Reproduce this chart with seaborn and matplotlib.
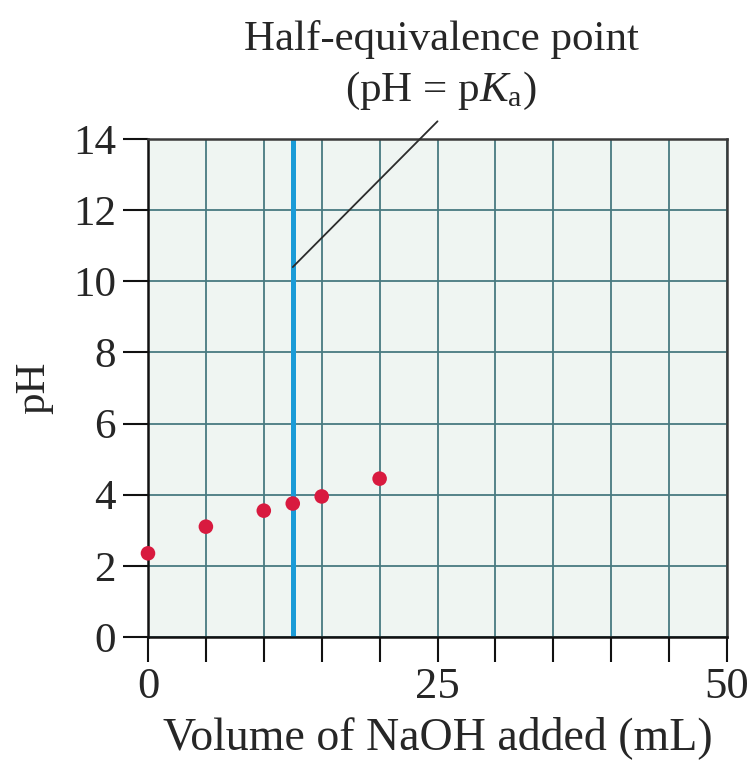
import matplotlib
matplotlib.use("Agg")
import matplotlib.pyplot as plt
import seaborn as sns
import pandas as pd

# Titration data: volume of NaOH added (mL) and measured pH
volume_ml = [0, 5, 10, 12.5, 15, 20]
ph_values = [2.35, 3.1, 3.55, 3.75, 3.95, 4.45]

half_equiv_volume = 12.5
x_ticks = [0, 5, 10, 15, 20, 25, 30, 35, 40, 45, 50]
x_tick_labels = ["0", "", "", "", "", "25", "", "", "", "", "50"]
y_ticks = [0, 2, 4, 6, 8, 10, 12, 14]
y_tick_labels = ["0", "2", "4", "6", "8", "10", "12", "14"]

label_lines = ["Half-equivalence point", r"(pH = p$\mathit{K}_{\mathrm{a}}$)"]
leader_start = (12.5, 10.4)
leader_end = (25.0, 14.5)

sns.set_theme(style="ticks")
plt.rcParams["font.family"] = ["Liberation Serif", "DejaVu Serif"]
plt.rcParams["mathtext.fontset"] = "custom"
plt.rcParams["mathtext.rm"] = "Liberation Serif"
plt.rcParams["mathtext.it"] = "Liberation Serif:italic"

df = pd.DataFrame({"volume": volume_ml, "pH": ph_values})

fig = plt.figure(figsize=(7.55, 7.6), dpi=100)
ax = fig.add_axes([0.196, 0.162, 0.767, 0.655])
ax.set_facecolor("#eff5f2")

ax.set_xlim(0, 50)
ax.set_ylim(0, 14)
ax.set_xticks(x_ticks)
ax.set_xticklabels(x_tick_labels)
ax.set_yticks(y_ticks)
ax.set_yticklabels(y_tick_labels)

ax.grid(True, color="#487a80", linewidth=1.3, zorder=1)
ax.set_axisbelow(True)

# half-equivalence marker
ax.axvline(half_equiv_volume, color="#1a9bd7", linewidth=3.6, zorder=2)

sns.scatterplot(data=df, x="volume", y="pH", ax=ax, color="#d81a3f",
                s=110, edgecolor="none", zorder=4, clip_on=False)

# leader line from the marker up to the label
ax.plot([leader_start[0], leader_end[0]], [leader_start[1], leader_end[1]],
        color="#2b2b2b", linewidth=1.3, clip_on=False, zorder=5)

ax.text(25.3, 16.8, label_lines[0], ha="center", va="center",
        fontsize=31, color="#262626")
ax.text(25.3, 15.35, label_lines[1], ha="center", va="center",
        fontsize=31, color="#262626")

for side in ["left", "bottom"]:
    ax.spines[side].set_color("#111111")
    ax.spines[side].set_linewidth(1.8)
for side in ["top", "right"]:
    ax.spines[side].set_color("#3a3a3a")
    ax.spines[side].set_linewidth(1.8)

ax.tick_params(axis="x", length=18, width=1.5, color="#111111", pad=4,
               labelsize=32, labelcolor="#262626", direction="out")
ax.tick_params(axis="y", length=18, width=1.5, color="#111111", pad=5,
               labelsize=31, labelcolor="#262626", direction="out")

ax.set_xlabel("Volume of NaOH added (mL)", fontsize=33, color="#262626",
              labelpad=6)
ax.set_ylabel("pH", fontsize=31, color="#262626", labelpad=14)

fig.savefig("out.png", dpi=100, facecolor="white")
